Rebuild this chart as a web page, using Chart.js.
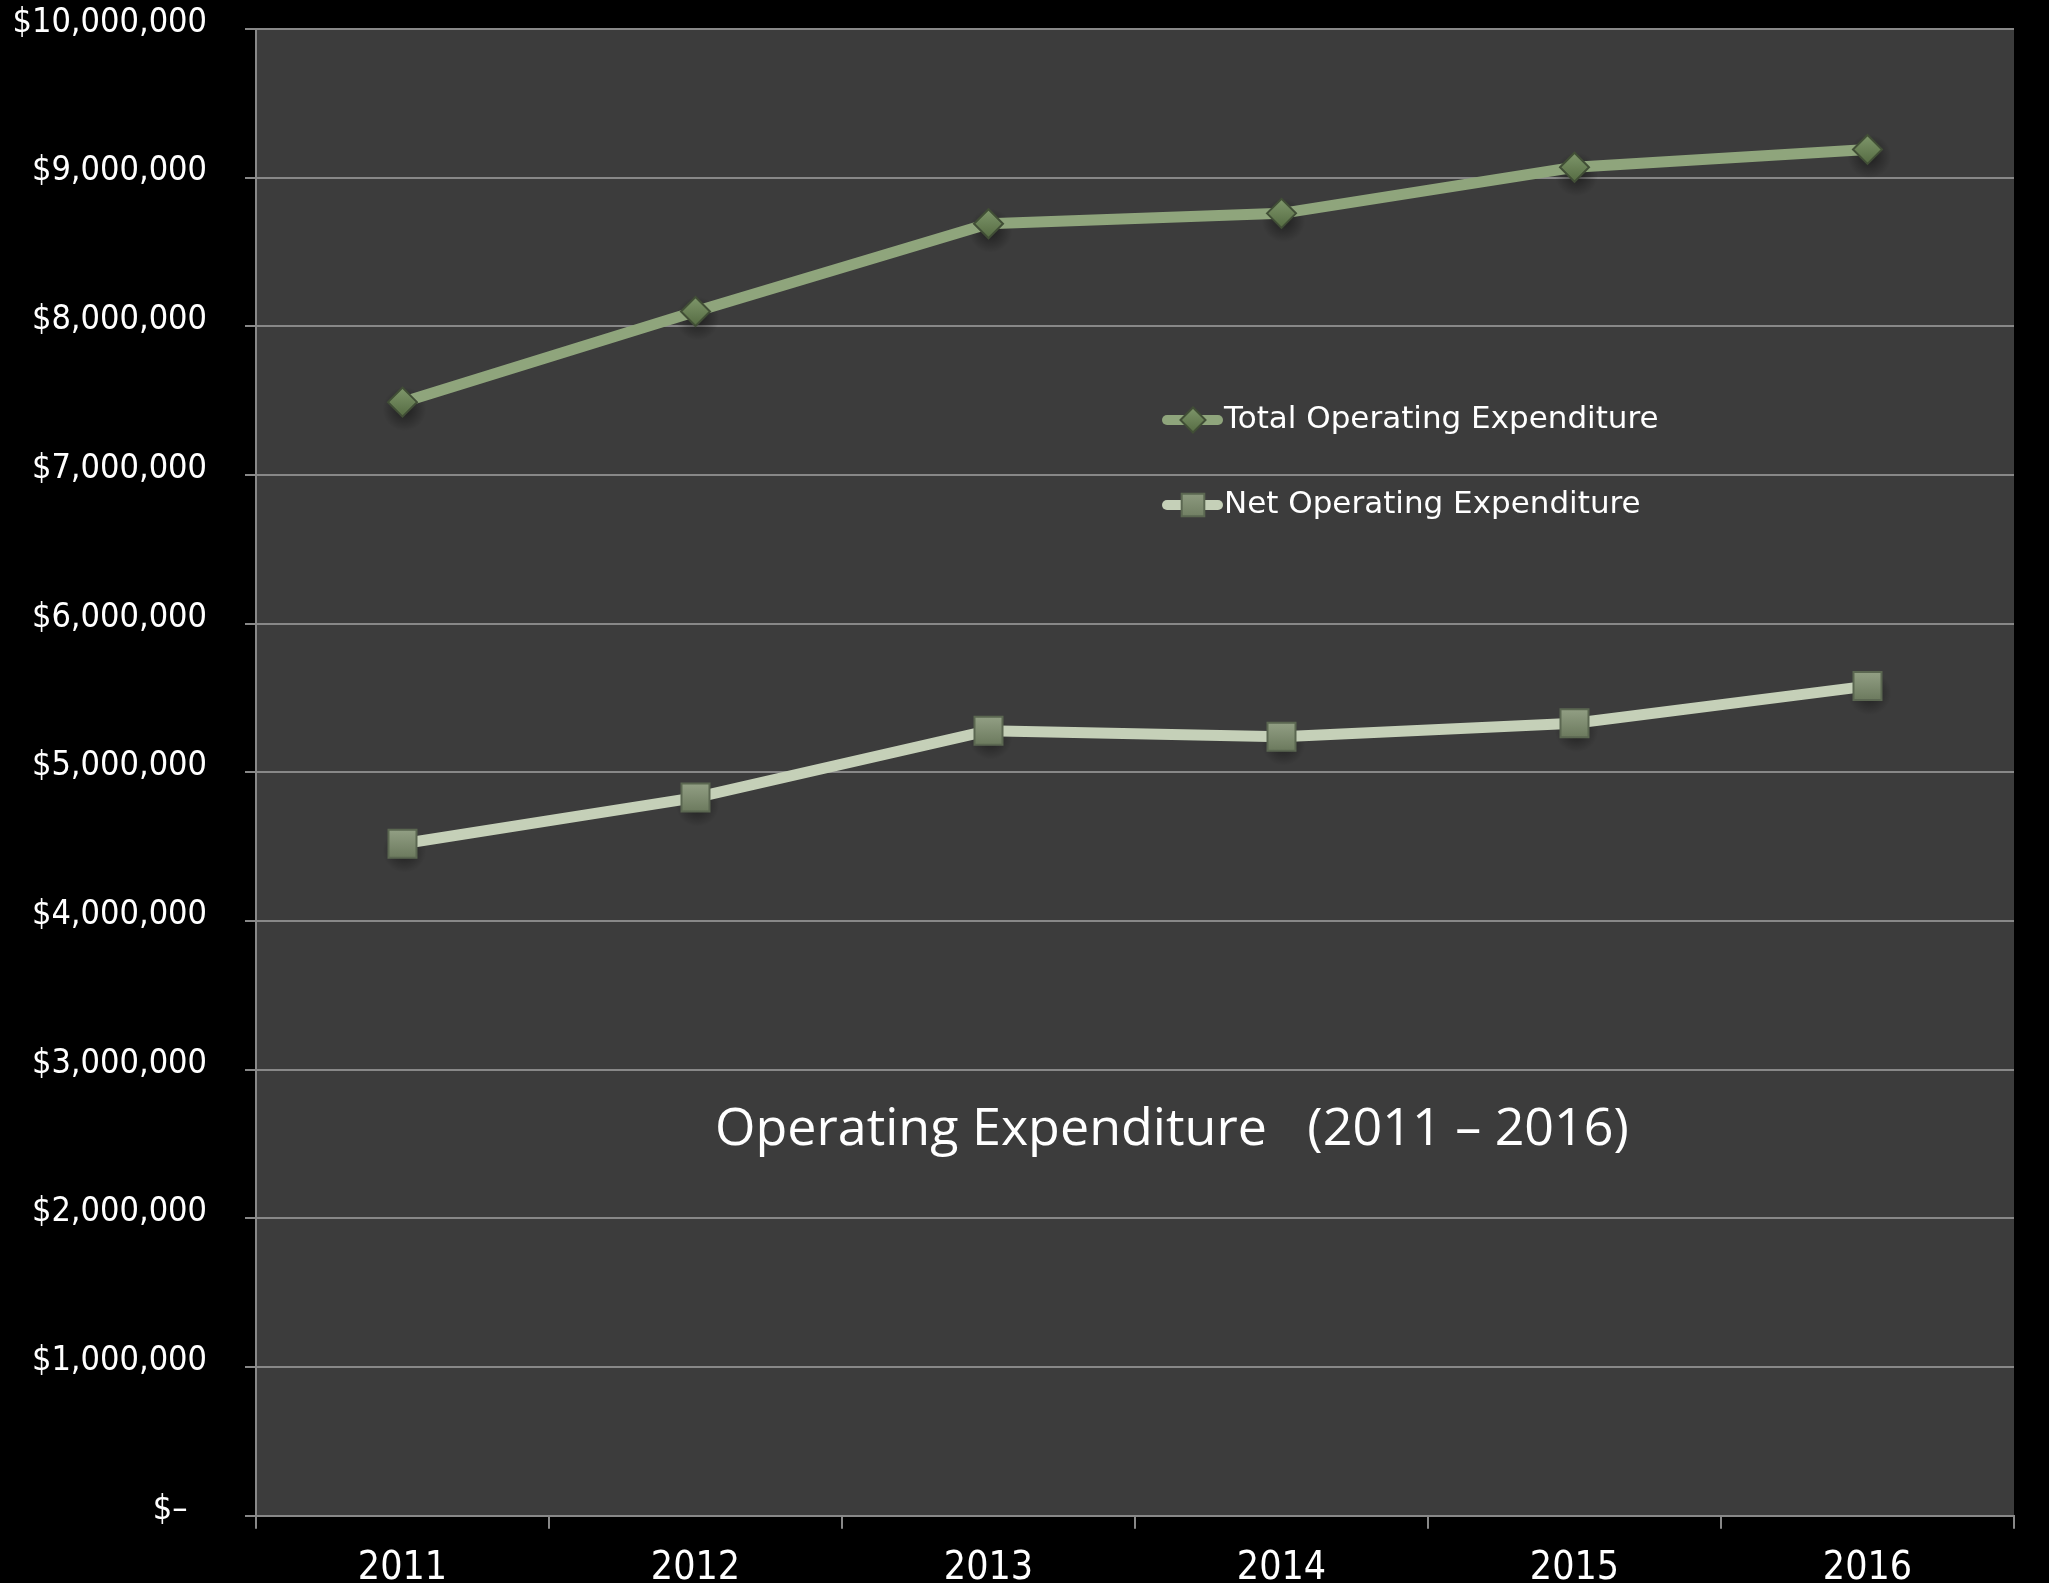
<!DOCTYPE html>
<html>
<head>
<meta charset="utf-8">
<script src="https://cdn.jsdelivr.net/npm/chart.js@4/dist/chart.umd.min.js"></script>
<style>
  html, body { margin: 0; padding: 0; background: #000; overflow: hidden; }
  canvas { display: block; }
</style>
</head>
<body>
<canvas id="chart" width="2049" height="1600"></canvas>
<script>
// Data
const years = ['2011', '2012', '2013', '2014', '2015', '2016'];
const totalOperating = [7490000, 8100000, 8690000, 8760000, 9070000, 9190000];
const netOperating   = [4520000, 4830000, 5280000, 5240000, 5330000, 5580000];
const seriesNames = ['Total Operating Expenditure', 'Net Operating Expenditure'];
const chartTitle = 'Operating Expenditure   (2011 \u2013 2016)';
const zeroLabel = '$\u2013  ';

const SANS = '"DejaVu Sans", "Open Sans", sans-serif';
const NARROW = '"DejaVu Sans Condensed", "DejaVu Sans", sans-serif';
const CAPTION = '"Open Sans", "DejaVu Sans", sans-serif';

// Marker fills: light top, darker bottom
const markerFills = [
  ['#7e966a', '#566c43'],
  ['#929f84', '#6c7a5e']
];

function verticalGradient(ctx, y, r, stops) {
  const g = ctx.createLinearGradient(0, y - r, 0, y + r);
  g.addColorStop(0, stops[0]);
  g.addColorStop(1, stops[1]);
  return g;
}

function pointFill(dsIndex, radius) {
  return function (context) {
    const flat = markerFills[dsIndex][1];
    if (context.type !== 'data' || !context.parsed) return flat;
    const yScale = context.chart.scales.y;
    if (!yScale) return flat;
    const y = yScale.getPixelForValue(context.parsed.y);
    if (!Number.isFinite(y)) return flat;
    return verticalGradient(context.chart.ctx, y, radius, markerFills[dsIndex]);
  };
}

// Dark fill behind the plotting area
const plotBackground = {
  id: 'plotBackground',
  beforeDraw(chart) {
    const { ctx, chartArea: a } = chart;
    ctx.save();
    ctx.fillStyle = '#3c3c3c';
    ctx.fillRect(a.left, a.top, a.right - a.left, a.bottom - a.top);
    ctx.restore();
  }
};

// Soft drop shadow under the markers
const markerShadow = {
  id: 'markerShadow',
  beforeDatasetsDraw(chart) {
    const { ctx } = chart;
    ctx.save();
    chart.data.datasets.forEach((ds, i) => {
      chart.getDatasetMeta(i).data.forEach(pt => {
        if (!Number.isFinite(pt.x) || !Number.isFinite(pt.y)) return;
        const g = ctx.createRadialGradient(pt.x + 2, pt.y + 7, 2, pt.x + 2, pt.y + 7, 22);
        g.addColorStop(0, 'rgba(0,0,0,0.45)');
        g.addColorStop(1, 'rgba(0,0,0,0)');
        ctx.fillStyle = g;
        ctx.fillRect(pt.x - 22, pt.y - 16, 48, 48);
      });
    });
    ctx.restore();
  }
};

// Legend rows drawn inside the plot, plus the centred caption
const innerLegendAndCaption = {
  id: 'innerLegendAndCaption',
  afterDatasetsDraw(chart) {
    const { ctx } = chart;
    const rows = [
      { y: 420, ds: chart.data.datasets[0], r: 12.5, fill: markerFills[0] },
      { y: 505, ds: chart.data.datasets[1], r: 16, fill: markerFills[1] }
    ];
    ctx.save();
    rows.forEach(row => {
      const ds = row.ds;
      ctx.strokeStyle = ds.borderColor;
      ctx.lineWidth = 10;
      ctx.lineCap = 'round';
      ctx.beginPath();
      ctx.moveTo(1167, row.y);
      ctx.lineTo(1218, row.y);
      ctx.stroke();
      ctx.fillStyle = verticalGradient(ctx, row.y, row.r, row.fill);
      ctx.strokeStyle = ds.pointBorderColor;
      ctx.lineWidth = 2;
      Chart.helpers.drawPoint(ctx, { pointStyle: ds.pointStyle, radius: row.r, borderWidth: 2, rotation: 0 }, 1193, row.y);
      ctx.fillStyle = '#ffffff';
      ctx.font = '31px ' + SANS;
      ctx.textAlign = 'left';
      ctx.textBaseline = 'middle';
      ctx.fillText(ds.label, 1224, row.y);
    });
    ctx.fillStyle = '#ffffff';
    ctx.font = '52px ' + CAPTION;
    ctx.textAlign = 'center';
    ctx.textBaseline = 'alphabetic';
    ctx.fillText(chartTitle, 1172, 1145);
    ctx.restore();
  }
};

const chart = new Chart(document.getElementById('chart'), {
  type: 'line',
  data: {
    labels: years,
    datasets: [
      {
        label: seriesNames[0],
        data: totalOperating,
        borderColor: '#8fa57c',
        borderWidth: 11,
        borderJoinStyle: 'round',
        pointStyle: 'rectRot',
        pointRadius: 14.5,
        pointHoverRadius: 14.5,
        pointBackgroundColor: pointFill(0, 14),
        pointBorderColor: '#414e36',
        pointBorderWidth: 2,
        tension: 0
      },
      {
        label: seriesNames[1],
        data: netOperating,
        borderColor: '#c5d0b8',
        borderWidth: 11,
        borderJoinStyle: 'round',
        pointStyle: 'rect',
        pointRadius: 19.8,
        pointHoverRadius: 19.8,
        pointBackgroundColor: pointFill(1, 14),
        pointBorderColor: '#5b6751',
        pointBorderWidth: 2,
        tension: 0
      }
    ]
  },
  options: {
    responsive: false,
    animation: false,
    devicePixelRatio: 1,
    layout: { padding: { top: 29, right: 35, bottom: 0, left: 0 } },
    plugins: {
      legend: { display: false },
      tooltip: { enabled: false },
      title: { display: false }
    },
    scales: {
      x: {
        offset: true,
        grid: {
          display: true,
          offset: true,
          drawOnChartArea: false,
          drawTicks: true,
          tickLength: 13,
          color: '#888888',
          lineWidth: 2
        },
        border: { display: true, color: '#888888', width: 2 },
        ticks: {
          color: '#ffffff',
          font: { family: NARROW, size: 39 },
          padding: 17,
          maxRotation: 0
        },
        afterFit(scale) {
          scale.height = 84.3;
          scale.paddingLeft = 0;
          scale.paddingRight = 0;
        }
      },
      y: {
        min: 0,
        max: 10000000,
        grid: {
          color: '#888888',
          lineWidth: 2,
          drawTicks: true,
          tickLength: 11
        },
        border: { display: true, color: '#888888', width: 2 },
        ticks: {
          stepSize: 1000000,
          color: '#ffffff',
          font: { family: NARROW, size: 34 },
          padding: 38,
          labelOffset: -6,
          callback: v => v === 0 ? zeroLabel : '$' + Number(v).toLocaleString('en-US')
        },
        afterFit(scale) {
          scale.width = 256;
          scale.paddingTop = 0;
          scale.paddingBottom = 0;
        }
      }
    }
  },
  plugins: [plotBackground, markerShadow, innerLegendAndCaption]
});

// Second pass so the marker gradients see the final scale positions
chart.update();
</script>
</body>
</html>
